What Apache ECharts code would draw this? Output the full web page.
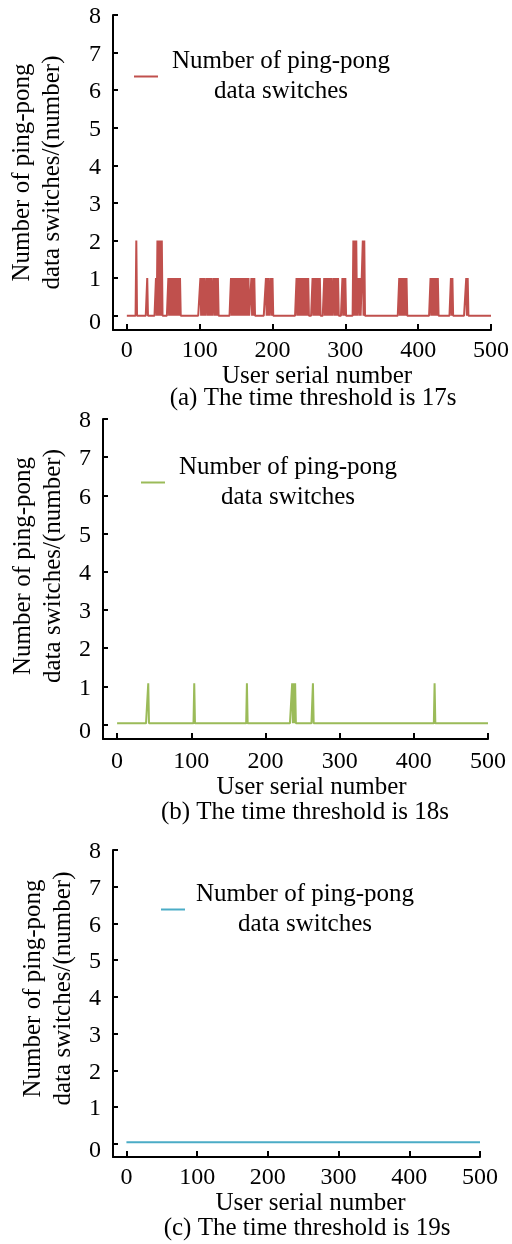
<!DOCTYPE html>
<html>
<head>
<meta charset="utf-8">
<script src="https://cdn.jsdelivr.net/npm/echarts@6/dist/echarts.min.js"></script>
<style>
  html, body { margin: 0; padding: 0; background: #ffffff; }
  #chart { width: 512px; height: 1244px; }
</style>
</head>
<body>
<div id="chart"></div>
<script>
// Axis ticks shared by the three panels
const xTicks = [0, 100, 200, 300, 400, 500];
const yTicks = [0, 1, 2, 3, 4, 5, 6, 7, 8];
const lastUser = 500;

// [user serial number, ping-pong switches] for users with switches; all others sit on the baseline
const spikesA = [
  [13, 2], [28, 1], [40, 1], [42, 2], [44, 2], [46, 2], [48, 2],
  [57, 1], [59, 1], [61, 1], [63, 1], [65, 1], [67, 1], [69, 1], [71, 1], [73, 1],
  [101, 1], [103, 1], [105, 1], [107, 1], [110, 1], [112, 1], [114, 1], [116, 1],
  [119, 1], [121, 1], [123, 1], [125, 1],
  [143, 1], [145, 1], [147, 1], [149, 1], [151, 1], [153, 1], [155, 1], [157, 1],
  [159, 1], [161, 1], [163, 1], [165, 1], [167, 1], [171, 1], [173, 1], [175, 1],
  [191, 1], [193, 1], [195, 1], [198, 1], [200, 1],
  [233, 1], [235, 1], [237, 1], [239, 1], [241, 1], [243, 1], [245, 1], [247, 1], [249, 1],
  [255, 1], [257, 1], [259, 1], [261, 1], [263, 1], [265, 1],
  [271, 1], [273, 1], [275, 1], [277, 1], [279, 1], [281, 1],
  [284, 1], [286, 1], [288, 1], [290, 1], [296, 1], [298, 1], [300, 1],
  [311, 2], [313, 2], [315, 2], [318, 1], [320, 1], [324, 2], [326, 2],
  [374, 1], [376, 1], [378, 1], [380, 1], [382, 1], [384, 1],
  [417, 1], [419, 1], [421, 1], [423, 1], [425, 1], [427, 1],
  [445, 1], [447, 1], [466, 1], [468, 1]
];
const baselineA = 0;

const spikesB = [
  [42, 1.08], [104, 1.08], [175, 1.08], [236, 1.08], [238, 1.08], [240, 1.08],
  [264, 1.08], [428, 1.08]
];
const baselineB = 0.03;

const spikesC = [];
const baselineC = 0.04;

const legendText = ['Number of ping-pong', 'data switches'];
const xTitle = 'User serial number';
const yTitle = 'Number of ping-pong\ndata switches/(number)';
const captions = [
  '(a) The time threshold is 17s',
  '(b) The time threshold is 18s',
  '(c) The time threshold is 19s'
];
const seriesNames = ['Switches at 17s', 'Switches at 18s', 'Switches at 19s'];
const colors = ['#c0504d', '#9bbb59', '#4bacc6'];

// one value per user: the baseline, replaced where a user has switches
function buildSeries(spikes, baseline) {
  const byUser = new Map(spikes);
  const out = [];
  for (let u = 0; u <= lastUser; u++) {
    out.push([u, byUser.has(u) ? byUser.get(u) : baseline]);
  }
  return out;
}
const seriesData = [
  buildSeries(spikesA, baselineA),
  buildSeries(spikesB, baselineB),
  buildSeries(spikesC, baselineC)
];

const FONT = 'Liberation Serif';

// panel layout: grid boxes, legend boxes, axis name offsets, caption positions
const panels = [
  { grid: { left: 113, top: 15, width: 378, height: 315 }, ymin: -0.38,
    legend: { left: 134, top: 49 }, legendWidth: 236,
    xNameGap: 29, xNameShift: 15, yNameGap: 46, yNameShift: 0,
    labelMargin: 9, caption: { x: 313, y: 398 } },
  { grid: { left: 103, top: 419, width: 385, height: 320 }, ymin: -0.38,
    legend: { left: 141, top: 455 }, legendWidth: 236,
    xNameGap: 33, xNameShift: 16, yNameGap: 33, yNameShift: 13,
    labelMargin: 11, caption: { x: 305, y: 812 } },
  { grid: { left: 113, top: 850, width: 367, height: 307 }, ymin: -0.36,
    legend: { left: 161, top: 882 }, legendWidth: 230,
    xNameGap: 33, xNameShift: 14, yNameGap: 35, yNameShift: 15,
    labelMargin: 9, caption: { x: 307, y: 1228 } }
];

const axisLineStyle = { color: '#000', width: 2 };
const tickFont = { fontFamily: FONT, fontSize: 24, color: '#000' };

const option = {
  animation: false,
  backgroundColor: '#ffffff',
  grid: panels.map(p => Object.assign({ containLabel: false, outerBoundsMode: 'none' }, p.grid)),
  xAxis: panels.map((p, i) => ({
    type: 'value', gridIndex: i, min: -19, max: 500,
    name: xTitle, nameLocation: 'middle', nameGap: p.xNameGap,
    nameTextStyle: { fontFamily: FONT, fontSize: 25, color: '#000',
                     padding: [0, 0, 0, 2 * p.xNameShift] },
    axisLine: { onZero: false, lineStyle: axisLineStyle },
    axisTick: { inside: true, length: 6, customValues: xTicks, lineStyle: axisLineStyle },
    axisLabel: Object.assign({ customValues: xTicks, margin: p.labelMargin }, tickFont),
    splitLine: { show: false }
  })),
  yAxis: panels.map((p, i) => ({
    type: 'value', gridIndex: i, min: p.ymin, max: 8,
    name: yTitle, nameLocation: 'middle', nameRotate: 90, nameGap: p.yNameGap,
    nameTextStyle: { fontFamily: FONT, fontSize: 25, color: '#000', lineHeight: 30,
                     padding: [0, 0, 0, 2 * p.yNameShift] },
    axisLine: { onZero: false, lineStyle: axisLineStyle },
    axisTick: { inside: true, length: 5, customValues: yTicks, lineStyle: axisLineStyle },
    axisLabel: Object.assign({
      customValues: yTicks, margin: 12,
      formatter: v => (v === 0 ? '{z|0}' : '{n|' + v + '}'),
      rich: {
        n: Object.assign({ padding: [4, 0, 0, 0] }, tickFont),
        z: Object.assign({ padding: [14, 0, 0, 0] }, tickFont)
      }
    }, tickFont),
    splitLine: { show: false }
  })),
  legend: panels.map((p, i) => ({
    data: [seriesNames[i]],
    left: p.legend.left, top: p.legend.top,
    padding: 0, icon: 'rect', itemWidth: 24, itemHeight: 2,
    selectedMode: false,
    formatter: () => '{t|' + legendText[0] + '}\n{t|' + legendText[1] + '}',
    textStyle: {
      rich: { t: { width: p.legendWidth, align: 'center', fontFamily: FONT, fontSize: 25, lineHeight: 30, color: '#000' } }
    }
  })),
  series: panels.map((p, i) => ({
    name: seriesNames[i], type: 'line', xAxisIndex: i, yAxisIndex: i,
    data: seriesData[i], showSymbol: false, symbol: 'none',
    lineStyle: { color: colors[i], width: 2 }, itemStyle: { color: colors[i] }
  })),
  graphic: panels.map((p, i) => ({
    type: 'text', x: p.caption.x, y: p.caption.y,
    style: { text: captions[i], align: 'center', verticalAlign: 'middle',
             font: '25px "' + FONT + '"', fill: '#000' }
  }))
};

const chart = echarts.init(document.getElementById('chart'), null, { renderer: 'canvas' });
chart.setOption(option);
</script>
</body>
</html>
